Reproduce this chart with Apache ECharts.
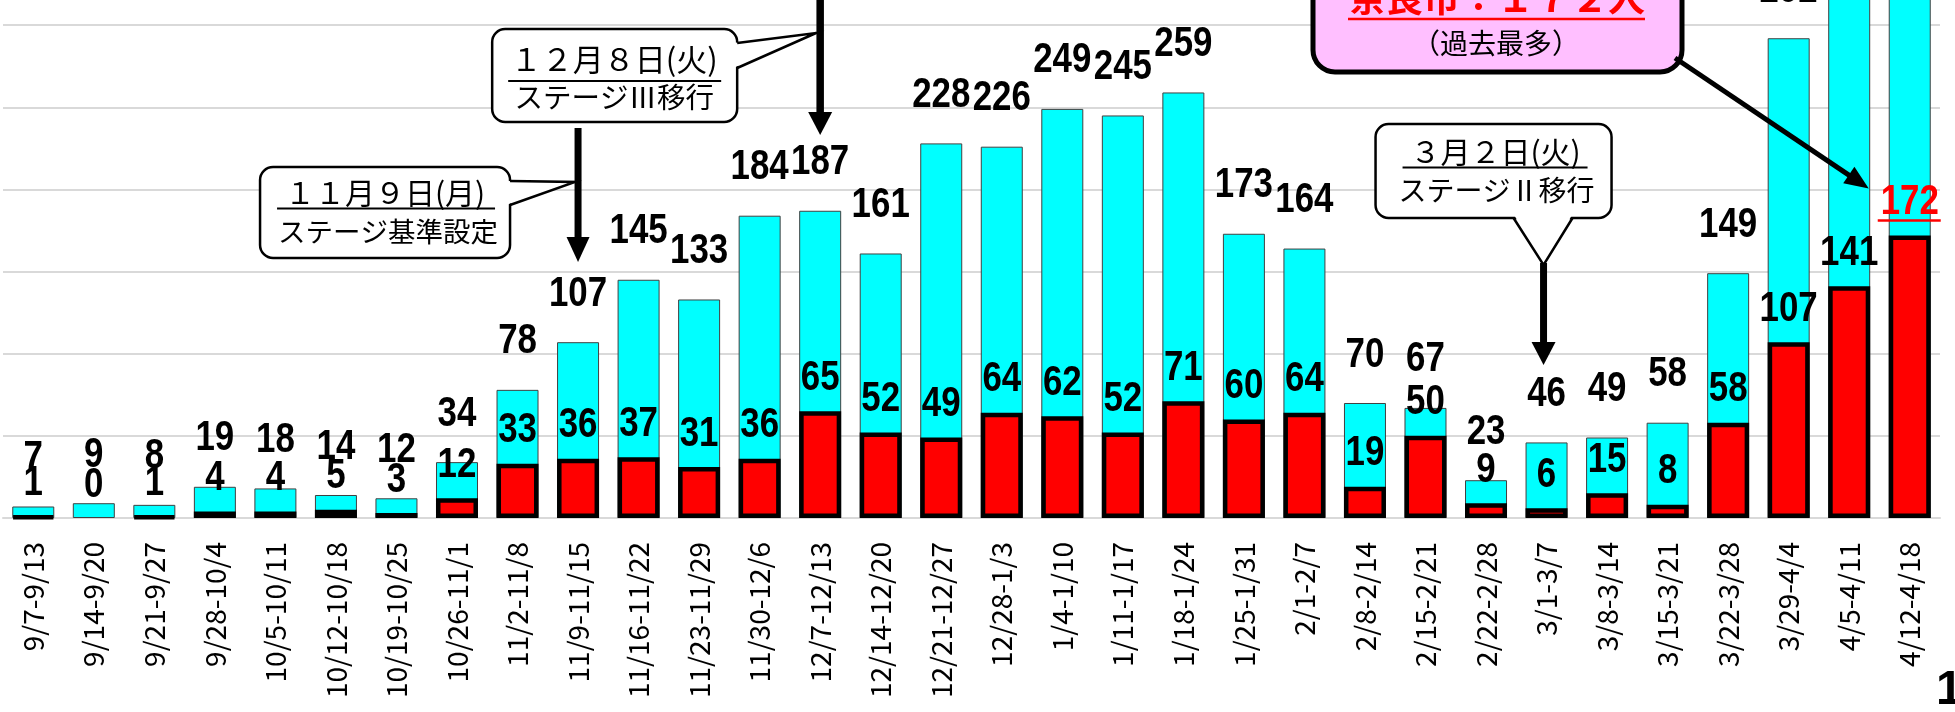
<!DOCTYPE html>
<html>
<head>
<meta charset="utf-8">
<script src="https://cdn.jsdelivr.net/npm/echarts@6/dist/echarts.min.js"></script>
<style>
html, body { margin: 0; padding: 0; background: #fff; }
#main { width: 1955px; height: 712px; }
</style>
</head>
<body>
<div id="main"></div>
<script>
// 週ごとの新規陽性者数（県全体）と奈良市分
var weeks = ['9/7-9/13', '9/14-9/20', '9/21-9/27', '9/28-10/4', '10/5-10/11', '10/12-10/18',
    '10/19-10/25', '10/26-11/1', '11/2-11/8', '11/9-11/15', '11/16-11/22', '11/23-11/29',
    '11/30-12/6', '12/7-12/13', '12/14-12/20', '12/21-12/27', '12/28-1/3', '1/4-1/10',
    '1/11-1/17', '1/18-1/24', '1/25-1/31', '2/1-2/7', '2/8-2/14', '2/15-2/21', '2/22-2/28',
    '3/1-3/7', '3/8-3/14', '3/15-3/21', '3/22-3/28', '3/29-4/4', '4/5-4/11', '4/12-4/18'];
var weekTotal = [7, 9, 8, 19, 18, 14, 12, 34, 78, 107, 145, 133, 184, 187, 161, 228, 226, 249,
    245, 259, 173, 164, 70, 67, 23, 46, 49, 58, 149, 292, 379, 478];
var naraCity = [1, 0, 1, 4, 4, 5, 3, 12, 33, 36, 37, 31, 36, 65, 52, 49, 64, 62, 52, 71, 60, 64,
    19, 50, 9, 6, 15, 8, 58, 107, 141, 172];
var yMax = 600;
var yStep = 50;

// 画面は上が切れているので、グリッドを上にはみ出させる
var baseY = 518;
var pxPerUnit = 1.643;

var numFont = "'Liberation Sans', Arial, sans-serif";
var jpFont = "'Noto Sans CJK JP', sans-serif";

var lastIdx = naraCity.length - 1;
var naraItems = naraCity.map(function (v) {
    // 0件の週は枠線も出さない
    return v === 0 ? { value: v, itemStyle: { borderWidth: 0 } } : v;
});

// 数値ラベル（細長い書体に見せるため横に縮める）
function labelItem(isRed) {
    return function (params, api) {
        var i = api.value(0), v = api.value(1);
        var p = api.coord([i, v]);
        var isLast = isRed && i === lastIdx;
        return {
            type: 'text',
            x: p[0],
            y: p[1] - (isRed ? 12 : 27),
            scaleX: 0.83,
            z2: 10,
            style: {
                text: String(v), x: 0, y: 0,
                align: 'center', verticalAlign: 'bottom',
                fill: isLast ? '#ff0000' : '#000',
                fontFamily: numFont, fontWeight: 'bold', fontSize: 42
            }
        };
    };
}

var myChart = echarts.init(document.getElementById('main'));

var option = {
    animation: false,
    grid: {
        left: 3,
        right: 15,
        bottom: 712 - baseY,
        top: baseY - yMax * pxPerUnit,
        containLabel: false,
        outerBoundsMode: 'none'
    },
    xAxis: {
        type: 'category',
        data: weeks,
        axisLine: { lineStyle: { color: '#d9d9d9', width: 2 } },
        axisTick: { show: false },
        axisLabel: {
            interval: 0,
            rotate: 90,
            margin: 24,
            color: '#000',
            fontFamily: jpFont,
            fontSize: 28
        }
    },
    yAxis: {
        type: 'value',
        min: 0,
        max: yMax,
        interval: yStep,
        axisLine: { show: false },
        axisTick: { show: false },
        axisLabel: { show: false },
        splitLine: { lineStyle: { color: '#d9d9d9', width: 2 } }
    },
    series: [
        {
            name: '県全体',
            type: 'bar',
            data: weekTotal,
            barWidth: 42,
            barGap: '-100%',
            z: 2,
            itemStyle: { color: '#00ffff', borderColor: '#404040', borderWidth: 1 }
        },
        {
            name: '奈良市',
            type: 'bar',
            data: naraItems,
            barWidth: 42,
            barGap: '-100%',
            z: 3,
            itemStyle: { color: '#ff0000', borderColor: '#000', borderWidth: 4.5 }
        },
        {
            name: '県全体ラベル',
            type: 'custom',
            data: weekTotal.map(function (v, i) { return [i, v]; }),
            encode: { x: 0, y: 1 },
            renderItem: labelItem(false),
            clip: false,
            z: 5
        },
        {
            name: '奈良市ラベル',
            type: 'custom',
            data: naraCity.map(function (v, i) { return [i, v]; }),
            encode: { x: 0, y: 1 },
            renderItem: labelItem(true),
            clip: false,
            z: 6
        }
    ]
};
myChart.setOption(option);

// ---- 注釈（吹き出し・矢印） ----
function px(i, v) {
    return myChart.convertToPixel({ gridIndex: 0 }, [i, v]);
}
function txt(s, x, y, size, opt) {
    opt = opt || {};
    return {
        type: 'text', z: 120,
        style: {
            text: s, x: x, y: y,
            fill: opt.fill || '#000',
            fontSize: size,
            fontFamily: jpFont,
            fontWeight: opt.bold ? 'bold' : 'normal',
            align: 'center', verticalAlign: 'middle',
            textAlign: 'center', textVerticalAlign: 'middle'
        }
    };
}
function line(x1, y1, x2, y2, w, c) {
    return { type: 'line', z: 110, shape: { x1: x1, y1: y1, x2: x2, y2: y2 }, style: { stroke: c || '#000', lineWidth: w } };
}
function arrow(x1, y1, x2, y2, w, headLen, headW) {
    var dx = x2 - x1, dy = y2 - y1, len = Math.sqrt(dx * dx + dy * dy);
    var ux = dx / len, uy = dy / len;
    var bx = x2 - ux * headLen, by = y2 - uy * headLen;
    return [
        line(x1, y1, bx + ux, by + uy, w),
        { type: 'polygon', z: 111, shape: { points: [[bx - uy * headW / 2, by + ux * headW / 2], [bx + uy * headW / 2, by - ux * headW / 2], [x2, y2]] }, style: { fill: '#000' } }
    ];
}
function callout(x, y, w, h, base1, base2, apex, inset) {
    return [
        { type: 'rect', z: 100, shape: { x: x, y: y, width: w, height: h, r: 13 }, style: { fill: '#fff', stroke: '#000', lineWidth: 2.5 } },
        { type: 'polygon', z: 101, shape: { points: [[base1[0] + inset[0], base1[1] + inset[1]], apex, [base2[0] + inset[0], base2[1] + inset[1]]] }, style: { fill: '#fff' } },
        { type: 'polyline', z: 102, shape: { points: [base1, apex, base2] }, style: { stroke: '#000', lineWidth: 2.5, fill: null } }
    ];
}

var g = [];
// 11月9日
var a1 = px(9, 0)[0];
g = g.concat(callout(a1 - 318, 167, 250, 91, [a1 - 68, 181], [a1 - 68, 205], [a1 - 3, 182], [-4, 0]));
g.push(txt('１１月９日(月)', a1 - 193, 193, 30));
g.push(line(a1 - 301, 208.5, a1 - 83, 208.5, 2));
g.push(txt('ステージ基準設定', a1 - 190, 232, 27.5));
g = g.concat(arrow(a1, 128, a1, 262, 7, 25, 23));

// 12月8日
var a2 = px(13, 0)[0];
g = g.concat(callout(a2 - 328, 29, 245, 93, [a2 - 83, 43], [a2 - 83, 68], [a2 - 4, 33], [-4, 0]));
g.push(txt('１２月８日(火)', a2 - 206, 59, 31));
g.push(line(a2 - 312, 81, a2 - 99, 81, 2));
g.push(txt('ステージⅢ移行', a2 - 206, 97, 28.5));
g = g.concat(arrow(a2, -5, a2, 135, 7.5, 23, 24));

// 3月2日
var a3 = px(25, 0)[0];
g = g.concat(callout(a3 - 171, 124, 236, 94, [a3 - 33, 218], [a3 + 26, 218], [a3 - 3, 265], [0, -4]));
g.push(txt('３月２日(火)', a3 - 51, 152, 30));
g.push(line(a3 - 144, 167.5, a3 + 41, 167.5, 2));
g.push(txt('ステージⅡ移行', a3 - 50, 190, 28));
g = g.concat(arrow(a3 - 3, 263, a3 - 3, 365, 7, 23, 24));

// 奈良市 172人 (過去最多)
g.push({ type: 'rect', z: 100, shape: { x: 1313, y: -40, width: 369, height: 112, r: 22 }, style: { fill: '#ffbfff', stroke: '#000', lineWidth: 5 } });
g.push(txt('奈良市：１７２人', 1497, -2, 37, { fill: '#ff0000', bold: true }));
g.push(line(1348, 19, 1645, 19, 2.5, '#ff0000'));
g.push(txt('（過去最多）', 1496, 43.5, 28));
var last = px(lastIdx, naraCity[lastIdx]);
g = g.concat(arrow(1675, 58, last[0] - 41, last[1] - 47, 5, 24, 20));
g.push(line(last[0] - 32, last[1] - 15, last[0] + 31, last[1] - 15, 2.5, '#ff0000'));

// ページ番号
g.push({ type: 'text', z: 120, style: { text: '1', x: 1936, y: 691, fill: '#000', fontSize: 48, fontWeight: 'bold', fontFamily: numFont, align: 'left', verticalAlign: 'middle', textAlign: 'left', textVerticalAlign: 'middle' } });

myChart.setOption({ graphic: g });
</script>
</body>
</html>
